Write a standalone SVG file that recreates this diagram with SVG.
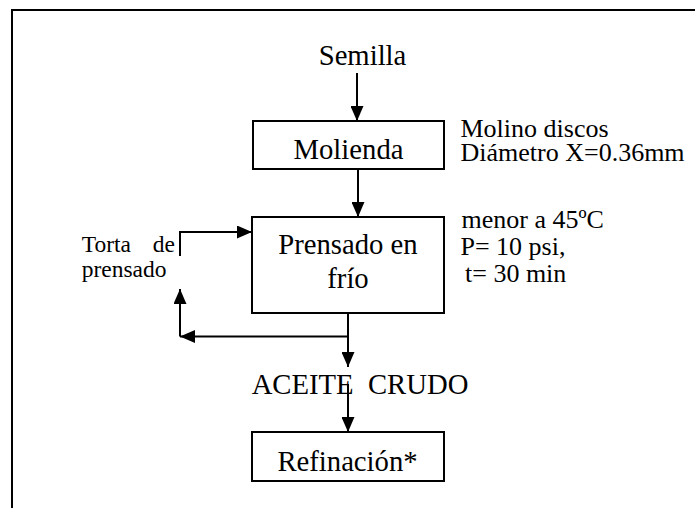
<svg xmlns="http://www.w3.org/2000/svg" width="695" height="508" viewBox="0 0 695 508">
  <style>
    text { font-family: "Liberation Serif", "Times New Roman", "DejaVu Serif", serif; fill: #000; }
    .main { font-size: 28.7px; text-anchor: middle; }
    .note { font-size: 26px; }
    .side { font-size: 23.5px; }
    .box { fill: #fff; stroke: #000; stroke-width: 2; }
    .conn { fill: none; stroke: #000; stroke-width: 2; }
    .arr { marker-end: url(#ah); }
  </style>
  <defs>
    <marker id="ah" viewBox="0 0 15 13" refX="15" refY="6.5" markerWidth="15" markerHeight="13" orient="auto" markerUnits="userSpaceOnUse">
      <path d="M0,0 L15,6.5 L0,13 Z" fill="#000"/>
    </marker>
  </defs>
  <rect width="695" height="508" fill="#fff"/>
  <g id="frame">
    <path d="M12,508 V10 H695" fill="none" stroke="#000" stroke-width="2"/>
  </g>
  <g id="semilla">
    <text class="main" x="362.5" y="65">Semilla</text>
  </g>
  <g id="molienda">
    <rect class="box" x="253" y="121" width="191" height="48"/>
    <text class="main" x="348.5" y="159">Molienda</text>
  </g>
  <g id="molienda-note">
    <text class="note" x="460.5" y="137">Molino discos</text>
    <text class="note" x="460.5" y="160.5">Diámetro X=0.36mm</text>
  </g>
  <g id="prensado">
    <rect class="box" x="252" y="217" width="192" height="96"/>
    <text class="main" x="348" y="254">Prensado en</text>
    <text class="main" x="348" y="288">frío</text>
  </g>
  <g id="prensado-note">
    <text class="note" x="461.5" y="228">menor a 45ºC</text>
    <text class="note" x="460.5" y="255">P= 10 psi,</text>
    <text class="note" x="465" y="282">t= 30 min</text>
  </g>
  <g id="torta">
    <text class="side" x="81.7" y="251.5">Torta</text>
    <text class="side" x="175" y="251.5" text-anchor="end">de</text>
    <text class="side" x="81.7" y="277">prensado</text>
  </g>
  <g id="aceite">
    <text class="main" x="360" y="394">ACEITE&#160; CRUDO</text>
  </g>
  <g id="refinacion">
    <rect class="box" x="252" y="432" width="192" height="49"/>
    <text class="main" x="347.5" y="471">Refinación*</text>
  </g>
  <g id="connectors">
    <path class="conn arr" d="M357,73 V121"/>
    <path class="conn arr" d="M358,169 V217"/>
    <path class="conn arr" d="M348,313 V367"/>
    <path class="conn arr" d="M348,336.5 H180"/>
    <path class="conn arr" d="M180,336.5 V289"/>
    <path class="conn arr" d="M180,256 V232 H252"/>
    <path class="conn arr" d="M348,384 V432"/>
  </g>
</svg>
